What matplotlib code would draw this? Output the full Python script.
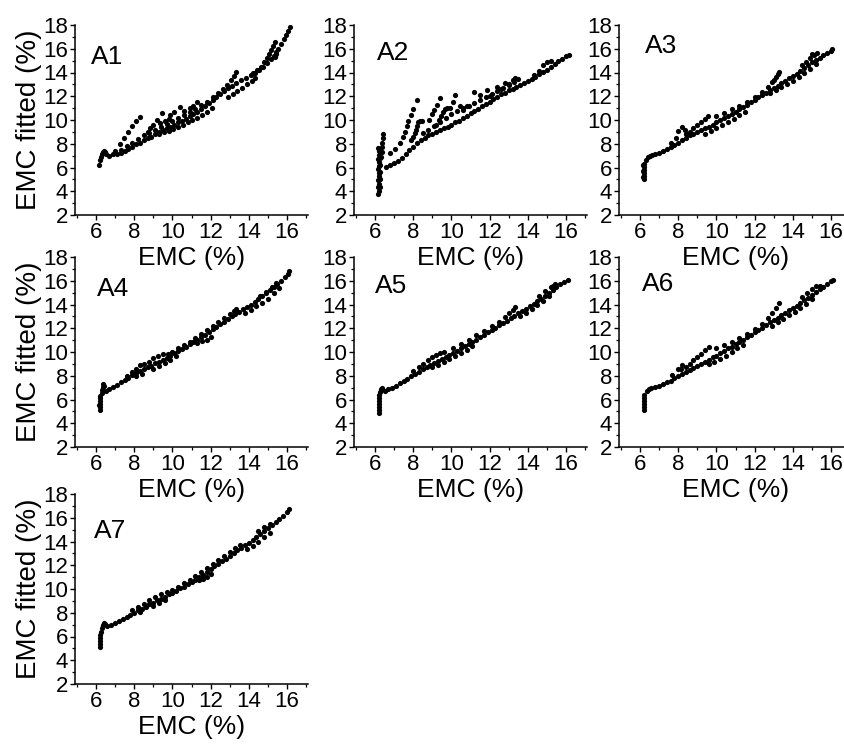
import matplotlib
matplotlib.use("Agg")
import matplotlib.pyplot as plt
from matplotlib.ticker import MultipleLocator

plt.rcParams['font.family'] = ['Liberation Sans', 'DejaVu Sans']

# Measured vs fitted equilibrium moisture content, one list of (EMC, EMC fitted) per model
a1_pts = [
    (6.15, 6.2), (6.22, 6.6), (6.28, 6.9), (6.33, 7.1), (6.38, 7.3), (6.42, 7.4), (6.48, 7.3), (6.52, 7.1),
    (6.7, 7.0), (6.9, 7.1), (7.1, 7.15), (7.3, 7.25), (7.5, 7.4), (7.7, 7.55), (7.9, 7.75), (8.1, 7.95),
    (8.3, 8.1), (8.5, 8.3), (8.7, 8.45), (8.9, 8.6), (9.1, 8.8), (9.3, 8.95), (9.5, 9.15), (9.7, 9.3),
    (9.9, 9.45), (10.1, 9.6), (10.3, 9.8), (10.5, 9.95), (10.7, 10.1), (10.9, 10.3), (11.1, 10.5),
    (11.3, 10.7), (11.5, 10.95), (11.7, 11.2), (11.9, 11.45), (12.1, 11.7), (12.3, 11.95), (12.5, 12.2),
    (12.7, 12.45), (12.9, 12.7),
    (7.0, 7.35), (7.3, 7.5), (7.6, 7.8), (7.9, 8.1), (8.2, 8.4), (8.5, 8.7), (8.8, 8.9), (9.1, 9.2),
    (9.4, 9.45), (9.7, 9.7), (10.0, 9.95), (10.3, 10.2), (10.6, 10.45), (10.9, 10.7), (11.2, 10.95),
    (11.5, 11.25), (11.8, 11.55), (12.1, 11.9), (12.4, 12.25), (12.65, 12.6), (12.85, 12.95),
    (13.05, 13.35), (13.2, 13.7), (13.32, 14.05),
    (7.25, 7.95), (7.45, 8.45), (7.7, 9.0), (7.9, 9.5), (8.1, 9.95), (8.28, 10.25),
    (8.7, 8.95), (8.85, 9.3), (9.0, 9.55), (9.2, 10.0), (9.35, 9.75), (9.47, 10.6), (9.6, 9.9),
    (9.8, 10.1), (9.9, 10.45), (10.1, 10.7), (10.38, 11.07), (10.6, 10.75), (10.9, 11.0), (11.1, 11.2),
    (11.3, 11.55),
    (9.3, 8.85), (9.55, 8.95), (9.8, 9.1), (10.05, 9.25), (10.3, 9.45), (10.55, 9.6), (10.8, 9.8),
    (11.05, 10.0), (11.3, 10.2), (11.55, 10.45), (11.8, 10.7), (12.05, 11.0),
    (12.9, 11.9), (13.15, 12.2), (13.4, 12.45), (13.65, 12.7), (13.9, 13.0), (14.15, 13.3), (14.35, 13.55),
    (13.1, 12.9), (13.35, 13.1), (13.6, 13.35), (13.85, 13.55), (14.1, 13.75), (14.35, 14.0),
    (14.55, 14.25), (14.75, 14.5), (14.95, 14.8), (15.15, 15.1), (15.3, 15.4), (15.45, 15.75),
    (14.2, 14.0), (14.45, 14.2),
    (14.65, 14.5), (14.8, 14.85), (14.95, 15.2), (15.05, 15.55), (15.15, 15.9), (15.25, 16.25), (15.35, 16.6),
    (15.35, 15.3), (15.45, 15.55), (15.55, 16.0), (15.7, 16.4), (15.85, 16.8), (15.95, 17.15),
    (16.05, 17.5), (16.17, 17.85),
]

a2_pts = [
    (6.18, 3.75), (6.2, 4.05), (6.18, 4.35), (6.22, 4.65), (6.18, 4.95), (6.2, 5.25), (6.22, 5.55),
    (6.18, 5.85), (6.2, 6.15), (6.22, 6.45), (6.18, 6.75), (6.2, 7.05), (6.22, 7.35), (6.18, 7.65),
    (6.26, 4.4), (6.26, 5.0), (6.26, 5.6), (6.26, 6.2), (6.26, 6.8), (6.26, 7.4),
    (6.33, 6.9), (6.35, 7.3), (6.37, 7.7), (6.38, 8.1), (6.4, 8.5), (6.42, 8.85),
    (6.6, 6.05), (6.8, 6.2), (7.0, 6.35), (7.2, 6.55), (7.4, 6.8), (7.6, 7.1), (7.8, 7.45), (8.0, 7.75),
    (8.2, 8.05), (8.4, 8.3), (8.6, 8.5), (8.8, 8.7), (9.0, 8.85), (9.2, 9.0), (9.4, 9.15), (9.6, 9.3),
    (9.8, 9.45), (10.0, 9.6), (10.2, 9.8), (10.4, 9.95), (10.6, 10.15), (10.8, 10.35), (11.0, 10.55),
    (11.2, 10.75), (11.4, 10.95), (11.6, 11.15), (11.8, 11.35), (12.0, 11.55), (12.2, 11.75),
    (12.4, 11.95), (12.6, 12.15), (12.8, 12.3), (13.0, 12.5), (13.2, 12.65), (13.4, 12.8), (13.6, 12.95),
    (13.8, 13.1), (14.0, 13.25), (14.2, 13.45), (14.4, 13.65), (14.6, 13.85), (14.8, 14.05),
    (15.0, 14.25), (15.2, 14.5), (15.4, 14.7), (15.6, 14.95), (15.8, 15.15), (16.0, 15.35), (16.15, 15.5),
    (8.5, 8.9), (8.8, 9.2), (9.1, 9.5), (9.4, 9.85), (9.7, 10.2), (10.0, 10.5), (10.3, 10.75),
    (10.6, 11.0), (10.9, 11.2), (11.2, 11.45), (11.5, 11.7), (11.8, 11.95), (12.1, 12.2), (12.4, 12.45),
    (12.7, 12.7), (13.0, 12.95), (13.3, 13.2), (13.5, 13.45),
    (6.8, 7.2), (7.05, 7.6), (7.3, 8.05), (7.45, 8.55), (7.57, 9.0), (7.66, 9.5), (7.75, 9.9),
    (7.9, 10.45), (8.0, 10.95), (8.18, 11.65),
    (7.9, 8.3), (8.0, 8.6), (8.1, 8.9), (8.15, 9.2), (8.2, 9.5), (8.25, 9.8), (8.35, 9.95), (8.45, 9.9),
    (8.85, 10.0), (9.0, 10.5), (9.1, 10.85), (9.25, 11.3), (9.4, 11.85),
    (9.2, 9.6), (9.35, 10.0), (9.45, 10.35), (9.55, 10.7), (9.65, 10.95), (9.75, 11.05),
    (9.95, 11.0), (10.1, 11.5), (10.2, 12.1), (10.45, 11.15), (10.6, 10.85), (10.8, 11.2),
    (11.2, 12.35), (11.5, 12.1), (11.85, 12.5), (12.0, 12.0),
    (12.4, 12.8), (12.6, 12.6), (12.8, 13.1), (13.0, 13.0), (13.2, 13.4), (13.35, 13.55),
    (14.3, 13.8), (14.6, 14.1), (14.8, 14.6), (15.0, 14.85), (15.2, 15.0),
]

a3_pts = [
    (6.2, 5.05), (6.2, 5.3), (6.2, 5.55), (6.2, 5.8), (6.2, 6.05), (6.22, 6.3), (6.18, 5.2), (6.18, 5.7),
    (6.18, 6.2),
    (6.3, 6.6), (6.4, 6.85), (6.5, 7.0), (6.65, 7.05), (6.8, 7.1), (7.0, 7.25), (7.2, 7.4), (7.4, 7.55),
    (7.6, 7.7), (7.8, 7.9), (8.0, 8.1), (8.2, 8.3), (8.4, 8.5), (8.6, 8.7), (8.8, 8.85), (9.0, 9.0),
    (9.2, 9.15), (9.4, 9.3), (9.6, 9.45), (9.8, 9.6), (10.0, 9.8), (10.2, 10.0), (10.4, 10.15),
    (10.6, 10.35), (10.8, 10.5), (11.0, 10.7), (11.2, 10.9), (11.4, 11.1), (11.6, 11.3), (11.8, 11.5),
    (12.0, 11.7), (12.2, 11.9), (12.4, 12.1), (12.6, 12.3), (12.8, 12.5), (13.0, 12.7), (13.2, 12.9),
    (13.4, 13.1), (13.6, 13.3), (13.8, 13.5), (14.0, 13.7), (14.2, 13.9), (14.4, 14.1), (14.6, 14.35),
    (14.8, 14.6), (15.0, 14.85), (15.2, 15.05), (15.4, 15.25), (15.6, 15.45), (15.8, 15.65),
    (16.0, 15.85), (16.05, 16.0),
    (8.6, 9.0), (8.8, 9.3), (9.0, 9.6), (9.2, 9.85), (9.4, 10.1), (9.55, 10.35), (8.4, 8.8),
    (7.6, 8.05), (7.9, 8.5), (8.0, 9.1), (8.2, 9.4), (8.35, 9.2), (8.45, 8.85),
    (9.4, 8.8), (9.7, 9.05), (10.0, 9.3), (10.3, 9.55), (10.6, 9.8), (10.9, 10.1), (11.2, 10.4),
    (11.5, 10.7),
    (10.0, 10.35), (10.4, 10.6), (10.8, 10.9), (11.2, 11.2), (11.6, 11.55), (12.0, 11.95), (12.4, 12.35),
    (12.7, 12.8), (12.9, 13.2), (13.0, 13.4), (13.1, 13.6), (13.2, 13.85), (13.3, 14.05),
    (12.8, 12.25), (13.1, 12.5), (13.4, 12.8), (13.7, 13.05), (14.0, 13.3), (14.3, 13.6), (14.6, 13.95),
    (14.9, 14.3), (15.2, 14.75),
    (14.5, 14.6), (14.7, 14.9), (14.9, 15.2), (15.0, 15.55), (15.1, 15.45), (15.25, 15.65),
]

a4_pts = [
    (6.2, 5.1), (6.2, 5.35), (6.2, 5.6), (6.2, 5.85), (6.2, 6.1), (6.18, 5.5), (6.22, 6.3), (6.3, 6.55),
    (6.32, 6.8), (6.35, 7.05), (6.38, 7.3), (6.42, 7.15),
    (6.5, 6.75), (6.7, 6.85), (6.9, 7.05), (7.1, 7.25), (7.3, 7.45), (7.5, 7.65), (7.7, 7.85),
    (7.9, 8.05), (8.1, 8.25), (8.3, 8.4), (8.5, 8.55), (8.7, 8.7), (8.9, 8.85), (9.1, 9.05), (9.3, 9.2),
    (9.5, 9.35), (9.7, 9.5), (9.9, 9.7), (10.1, 9.9), (10.3, 10.05), (10.5, 10.25), (10.7, 10.45),
    (10.9, 10.65), (11.1, 10.85), (11.3, 11.05), (11.5, 11.25), (11.7, 11.45), (11.9, 11.65),
    (12.1, 11.9), (12.3, 12.1), (12.5, 12.35), (12.7, 12.55), (12.9, 12.8), (13.1, 13.0), (13.3, 13.2),
    (13.5, 13.4), (13.7, 13.6), (13.9, 13.8), (14.1, 14.0), (14.3, 14.2), (14.5, 14.45), (14.7, 14.7),
    (14.9, 14.95), (15.1, 15.2), (15.3, 15.45), (15.5, 15.7), (15.7, 15.95), (15.9, 16.3),
    (16.05, 16.55), (16.12, 16.8),
    (7.6, 8.0), (7.9, 8.3), (8.1, 8.6), (8.3, 8.9), (8.5, 8.95), (8.75, 9.2), (9.0, 9.5), (9.25, 9.7),
    (9.5, 9.8), (9.75, 9.85), (10.0, 10.0), (10.3, 10.3), (10.6, 10.55), (10.9, 10.85), (11.2, 11.15),
    (11.5, 11.5), (11.8, 11.85), (12.1, 12.2), (12.4, 12.55), (12.7, 12.85), (13.0, 13.2),
    (13.2, 13.45), (13.35, 13.6),
    (8.1, 7.95), (8.4, 8.15), (9.0, 8.55), (9.3, 8.8), (9.6, 9.05), (9.9, 9.35), (10.2, 9.65),
    (11.3, 10.75), (11.55, 10.9), (11.8, 11.05), (12.0, 11.25), (13.8, 13.3), (14.1, 13.55),
    (14.4, 13.85), (14.7, 14.15), (15.0, 14.5), (15.3, 14.95), (15.6, 15.35),
    (14.6, 14.7), (14.9, 15.05), (15.2, 15.45), (15.45, 15.8),
]

a5_pts = [
    (6.2, 4.9), (6.2, 5.15), (6.2, 5.4), (6.2, 5.65), (6.2, 5.9), (6.2, 6.15), (6.22, 6.4), (6.27, 6.65),
    (6.3, 6.9), (6.35, 7.0),
    (6.5, 6.75), (6.7, 6.85), (6.9, 7.0), (7.1, 7.15), (7.3, 7.35), (7.5, 7.55), (7.7, 7.75),
    (7.9, 7.95), (8.1, 8.15), (8.3, 8.35), (8.5, 8.55), (8.7, 8.7), (8.9, 8.9), (9.1, 9.05), (9.3, 9.25),
    (9.5, 9.4), (9.7, 9.6), (9.9, 9.75), (10.1, 9.95), (10.3, 10.1), (10.5, 10.3), (10.7, 10.5),
    (10.9, 10.65), (11.1, 10.85), (11.3, 11.05), (11.5, 11.25), (11.7, 11.45), (11.9, 11.65),
    (12.1, 11.85), (12.3, 12.05), (12.5, 12.25), (12.7, 12.45), (12.9, 12.65), (13.1, 12.85),
    (13.3, 13.05), (13.5, 13.25), (13.7, 13.45), (13.9, 13.65), (14.1, 13.85), (14.3, 14.05),
    (14.5, 14.3), (14.7, 14.5), (14.9, 14.75), (15.1, 15.0), (15.3, 15.25), (15.5, 15.45),
    (15.7, 15.7), (15.9, 15.9), (16.1, 16.05),
    (8.0, 8.4), (8.3, 8.7), (8.5, 8.95), (8.75, 9.3), (9.0, 9.55), (9.2, 9.75), (9.4, 9.9), (9.6, 10.0),
    (10.1, 10.3), (10.5, 10.65), (10.9, 11.0), (11.3, 11.4), (11.7, 11.75), (12.1, 12.15),
    (12.5, 12.55), (12.8, 12.95), (13.0, 13.25), (13.2, 13.55), (13.35, 13.75), (14.6, 14.75),
    (14.9, 15.1), (15.2, 15.5), (15.45, 15.75), (15.3, 15.6),
    (9.0, 8.7), (9.3, 8.9), (9.6, 9.15), (9.9, 9.4), (10.2, 9.65), (10.5, 9.9), (10.8, 10.2),
    (11.1, 10.5), (13.6, 13.0), (13.9, 13.3), (14.2, 13.6), (14.5, 13.95), (14.8, 14.3), (15.1, 14.7),
]

a6_pts = [
    (6.2, 5.1), (6.2, 5.35), (6.2, 5.6), (6.2, 5.85), (6.2, 6.1), (6.22, 6.35),
    (6.35, 6.7), (6.45, 6.85), (6.6, 6.95), (6.8, 7.05), (7.0, 7.15), (7.2, 7.3), (7.4, 7.45),
    (7.6, 7.6), (7.8, 7.8), (8.0, 7.95), (8.2, 8.15), (8.4, 8.3), (8.6, 8.5), (8.8, 8.65), (9.0, 8.85),
    (9.2, 9.0), (9.4, 9.2), (9.6, 9.35), (9.8, 9.55), (10.0, 9.7), (10.2, 9.9), (10.4, 10.1),
    (10.6, 10.3), (10.8, 10.45), (11.0, 10.65), (11.2, 10.85), (11.4, 11.05), (11.6, 11.25),
    (11.8, 11.45), (12.0, 11.65), (12.2, 11.85), (12.4, 12.05), (12.6, 12.3), (12.8, 12.5),
    (13.0, 12.7), (13.2, 12.9), (13.4, 13.1), (13.6, 13.3), (13.8, 13.5), (14.0, 13.7), (14.2, 13.9),
    (14.4, 14.1), (14.6, 14.35), (14.8, 14.55), (15.0, 14.8), (15.2, 15.05), (15.4, 15.3),
    (15.6, 15.5), (15.8, 15.7), (16.0, 15.95), (16.12, 16.1),
    (8.4, 8.75), (8.6, 9.0), (8.8, 9.3), (9.0, 9.6), (9.2, 9.85), (9.4, 10.15), (9.6, 10.45),
    (7.7, 8.1), (8.0, 8.6), (8.2, 8.9), (8.15, 8.55),
    (9.6, 9.0), (9.9, 9.2), (10.2, 9.45), (10.5, 9.7), (10.8, 10.0), (11.1, 10.3), (11.4, 10.6),
    (10.0, 10.3), (10.4, 10.55), (10.8, 10.85), (11.2, 11.2), (11.6, 11.55), (12.0, 11.95),
    (12.4, 12.4), (12.7, 12.85), (12.9, 13.3), (13.1, 13.7), (13.3, 14.1),
    (12.9, 12.2), (13.2, 12.5), (13.5, 12.8), (13.8, 13.1), (14.1, 13.35), (14.4, 13.7),
    (14.7, 14.05), (15.0, 14.45),
    (14.5, 14.6), (14.75, 14.95), (15.0, 15.3), (15.2, 15.55), (15.4, 15.6),
]

a7_pts = [
    (6.2, 5.15), (6.2, 5.4), (6.2, 5.65), (6.2, 5.9), (6.22, 6.1), (6.28, 6.4), (6.32, 6.7),
    (6.35, 6.95), (6.4, 7.15), (6.45, 7.05),
    (6.6, 6.85), (6.8, 7.0), (7.0, 7.15), (7.2, 7.3), (7.4, 7.5), (7.6, 7.65), (7.8, 7.85), (8.0, 8.0),
    (8.2, 8.2), (8.4, 8.35), (8.6, 8.5), (8.8, 8.7), (9.0, 8.85), (9.2, 9.05), (9.4, 9.2), (9.6, 9.35),
    (9.8, 9.55), (10.0, 9.7), (10.2, 9.85), (10.4, 10.05), (10.6, 10.2), (10.8, 10.4), (11.0, 10.6),
    (11.2, 10.8), (11.4, 11.0), (11.6, 11.2), (11.8, 11.45), (12.0, 11.65), (12.2, 11.9), (12.4, 12.1),
    (12.6, 12.35), (12.8, 12.55), (13.0, 12.8), (13.2, 13.0), (13.4, 13.25), (13.6, 13.45),
    (13.8, 13.7), (14.0, 13.9), (14.2, 14.15), (14.4, 14.4), (14.6, 14.65), (14.8, 14.9),
    (15.0, 15.15), (15.2, 15.4), (15.4, 15.65), (15.6, 15.9), (15.8, 16.15), (16.0, 16.5),
    (16.12, 16.75),
    (7.9, 8.25), (8.2, 8.45), (8.5, 8.75), (8.8, 9.05), (9.1, 9.3), (9.4, 9.55), (9.7, 9.75),
    (10.0, 9.95), (10.3, 10.2), (10.6, 10.5), (10.9, 10.8), (11.2, 11.1), (11.5, 11.45), (11.8, 11.8),
    (12.1, 12.1), (12.4, 12.45), (12.7, 12.75), (13.0, 13.1), (13.3, 13.45), (13.55, 13.7),
    (14.5, 14.85), (14.8, 15.2), (15.1, 15.5),
    (8.3, 8.05), (9.0, 8.6), (9.3, 8.85), (9.6, 9.1), (11.4, 10.75), (11.6, 10.85), (11.8, 11.0),
    (12.0, 11.25), (13.9, 13.35), (14.2, 13.65), (14.5, 13.95), (14.8, 14.35), (15.1, 14.75),
]

panel_names = ["A1", "A2", "A3", "A4", "A5", "A6", "A7"]
panel_data = [a1_pts, a2_pts, a3_pts, a4_pts, a5_pts, a6_pts, a7_pts]

x_label = "EMC (%)"
y_label = "EMC fitted (%)"
x_limits = (4.9, 17.1)
y_limits = (2, 18)

W, H = 844, 747
fig = plt.figure(figsize=(W / 100, H / 100), dpi=100)

col_left = [75, 354, 619]
row_top = [25, 257, 494]
ax_w, ax_h = 233, 190
label_pos = [(0.07, 0.83), (0.097, 0.85), (0.11, 0.89),
             (0.094, 0.83), (0.09, 0.845), (0.097, 0.86), (0.08, 0.805)]

for i, (name, pts) in enumerate(zip(panel_names, panel_data)):
    r, c = divmod(i, 3)
    left = col_left[c] / W
    bottom = 1 - (row_top[r] + ax_h) / H
    ax = fig.add_axes([left, bottom, ax_w / W, ax_h / H])
    xs = [p[0] for p in pts]
    ys = [p[1] for p in pts]
    ax.scatter(xs, ys, s=14, c="black", linewidths=0, zorder=3)
    ax.set_xlim(*x_limits)
    ax.set_ylim(*y_limits)
    ax.xaxis.set_major_locator(MultipleLocator(2))
    ax.xaxis.set_minor_locator(MultipleLocator(1))
    ax.yaxis.set_major_locator(MultipleLocator(2))
    ax.yaxis.set_minor_locator(MultipleLocator(1))
    for side in ("top", "right"):
        ax.spines[side].set_visible(False)
    for side in ("left", "bottom"):
        ax.spines[side].set_linewidth(1.1)
    ax.tick_params(which="major", direction="out", length=3.5, width=1.0,
                   labelsize=16, pad=1.5)
    ax.tick_params(which="minor", direction="out", length=2.0, width=0.9)
    ax.set_xlabel(x_label, fontsize=19, labelpad=2)
    if c == 0:
        ax.set_ylabel(y_label, fontsize=20, labelpad=1)
    ax.patch.set_alpha(0)
    lx, ly = label_pos[i]
    ax.text(lx, ly, name, transform=ax.transAxes, fontsize=19, va="center", ha="left")

fig.savefig("out.png", dpi=100)
